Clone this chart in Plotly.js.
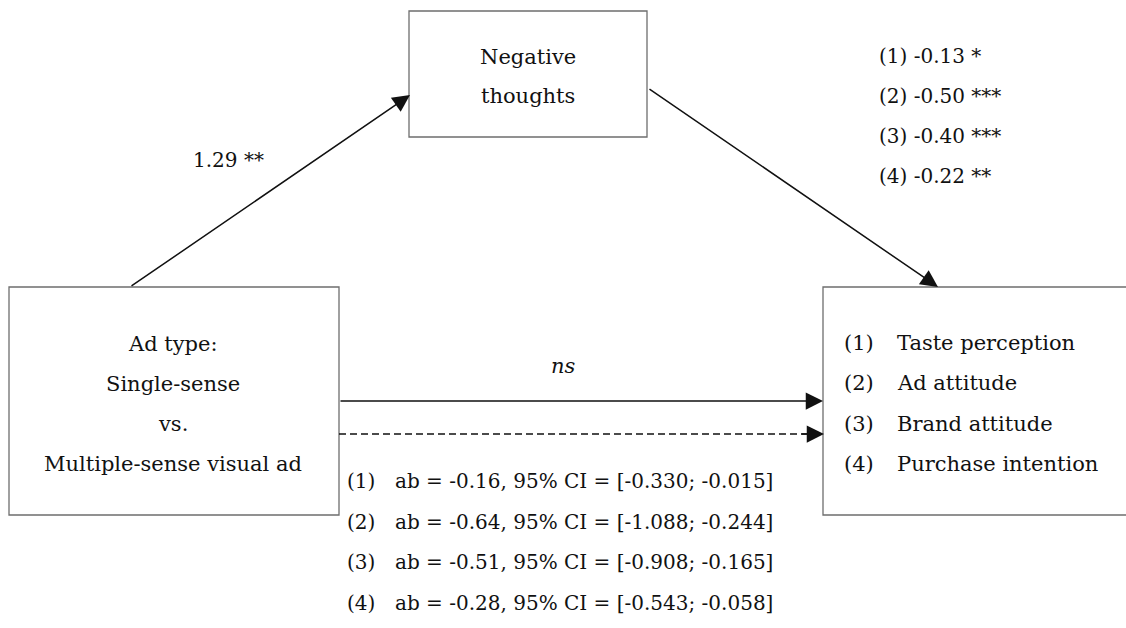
<!DOCTYPE html>
<html>
<head>
<meta charset="utf-8">
<script src="https://cdn.plot.ly/plotly-3.0.1.min.js"></script>
<style>html,body{margin:0;padding:0;background:#fff;}#chart{width:1126px;height:628px;}</style>
</head>
<body>
<div id="chart"></div>
<script>
// ---- content ----
const predictorLines = ["Ad type:", "Single-sense", "vs.", "Multiple-sense visual ad"];
const mediatorLines = ["Negative", "thoughts"];
const outcomeNums = ["(1)", "(2)", "(3)", "(4)"];
const outcomes = ["Taste perception", "Ad attitude", "Brand attitude", "Purchase intention"];
const aPath = "1.29 **";
const bPaths = ["-0.13 *", "-0.50 ***", "-0.40 ***", "-0.22 **"];
const cPrime = "ns";
const indirectEffects = [
  "ab = -0.16, 95% CI = [-0.330; -0.015]",
  "ab = -0.64, 95% CI = [-1.088; -0.244]",
  "ab = -0.51, 95% CI = [-0.908; -0.165]",
  "ab = -0.28, 95% CI = [-0.543; -0.058]"
];

// ---- layout geometry ----
const FONT = "DejaVu Serif, serif";
const FS = 21;   // word labels
const FN = 20;   // numeric lines
const TXT = "#111";
const boxes = {
  pred: {x0: 9, x1: 339, y0: 287, y1: 515},
  med: {x0: 409, x1: 647, y0: 11, y1: 137},
  out: {x0: 823, x1: 1130, y0: 287, y1: 515}
};

const shapes = [];
for (const k in boxes) {
  const b = boxes[k];
  shapes.push({type: "rect", xref: "x", yref: "y", x0: b.x0, x1: b.x1, y0: b.y0, y1: b.y1,
    line: {color: "#6e6e6e", width: 1.3}, fillcolor: "rgba(0,0,0,0)"});
}
// dashed indirect path line
shapes.push({type: "line", xref: "x", yref: "y", x0: 339, x1: 810, y0: 434, y1: 434,
  line: {color: "#111", width: 1.4, dash: "7px,4px"}});

const ann = [];
function txt(x, y, text, xanchor, size) {
  ann.push({x: x, y: y, xref: "x", yref: "y", text: text, showarrow: false,
    xanchor: xanchor || "center", yanchor: "middle",
    font: {family: FONT, size: size || FS, color: TXT}});
}
function arrow(x0, y0, x1, y1) {
  ann.push({x: x1, y: y1, ax: x0, ay: y0, xref: "x", yref: "y", axref: "x", ayref: "y",
    text: "", showarrow: true, arrowhead: 2, arrowsize: 2.3, arrowwidth: 1.5,
    arrowcolor: "#111", standoff: 0, startstandoff: 0});
}

predictorLines.forEach((t, i) => txt(173, 344 + i * 40, t));
mediatorLines.forEach((t, i) => txt(528, 57 + i * 39, t));
outcomes.forEach((t, i) => {
  txt(842, 343 + i * 40.3, outcomeNums[i], "left");
  txt(895, 343 + i * 40.3, t, "left");
});
bPaths.forEach((t, i) => txt(877, 56 + i * 40, outcomeNums[i] + " " + t, "left", FN));
indirectEffects.forEach((t, i) => {
  txt(345, 481 + i * 40.5, outcomeNums[i], "left", FN);
  txt(393, 481 + i * 40.5, t, "left", FN);
});
txt(228, 160, aPath, "center", FN);
txt(563, 366, "<i>" + cPrime + "</i>");

// arrows
arrow(130, 287, 410, 95);
arrow(648, 88, 938, 287);
arrow(339, 401, 823, 401);
arrow(800, 434, 824, 434);

const layout = {
  width: 1126, height: 628,
  margin: {l: 0, r: 0, t: 0, b: 0},
  paper_bgcolor: "#fff", plot_bgcolor: "#fff",
  xaxis: {range: [0, 1126], visible: false, fixedrange: true},
  yaxis: {range: [628, 0], visible: false, fixedrange: true},
  shapes: shapes, annotations: ann, showlegend: false
};
Plotly.newPlot("chart", [], layout, {staticPlot: true, displayModeBar: false});
</script>
</body>
</html>
